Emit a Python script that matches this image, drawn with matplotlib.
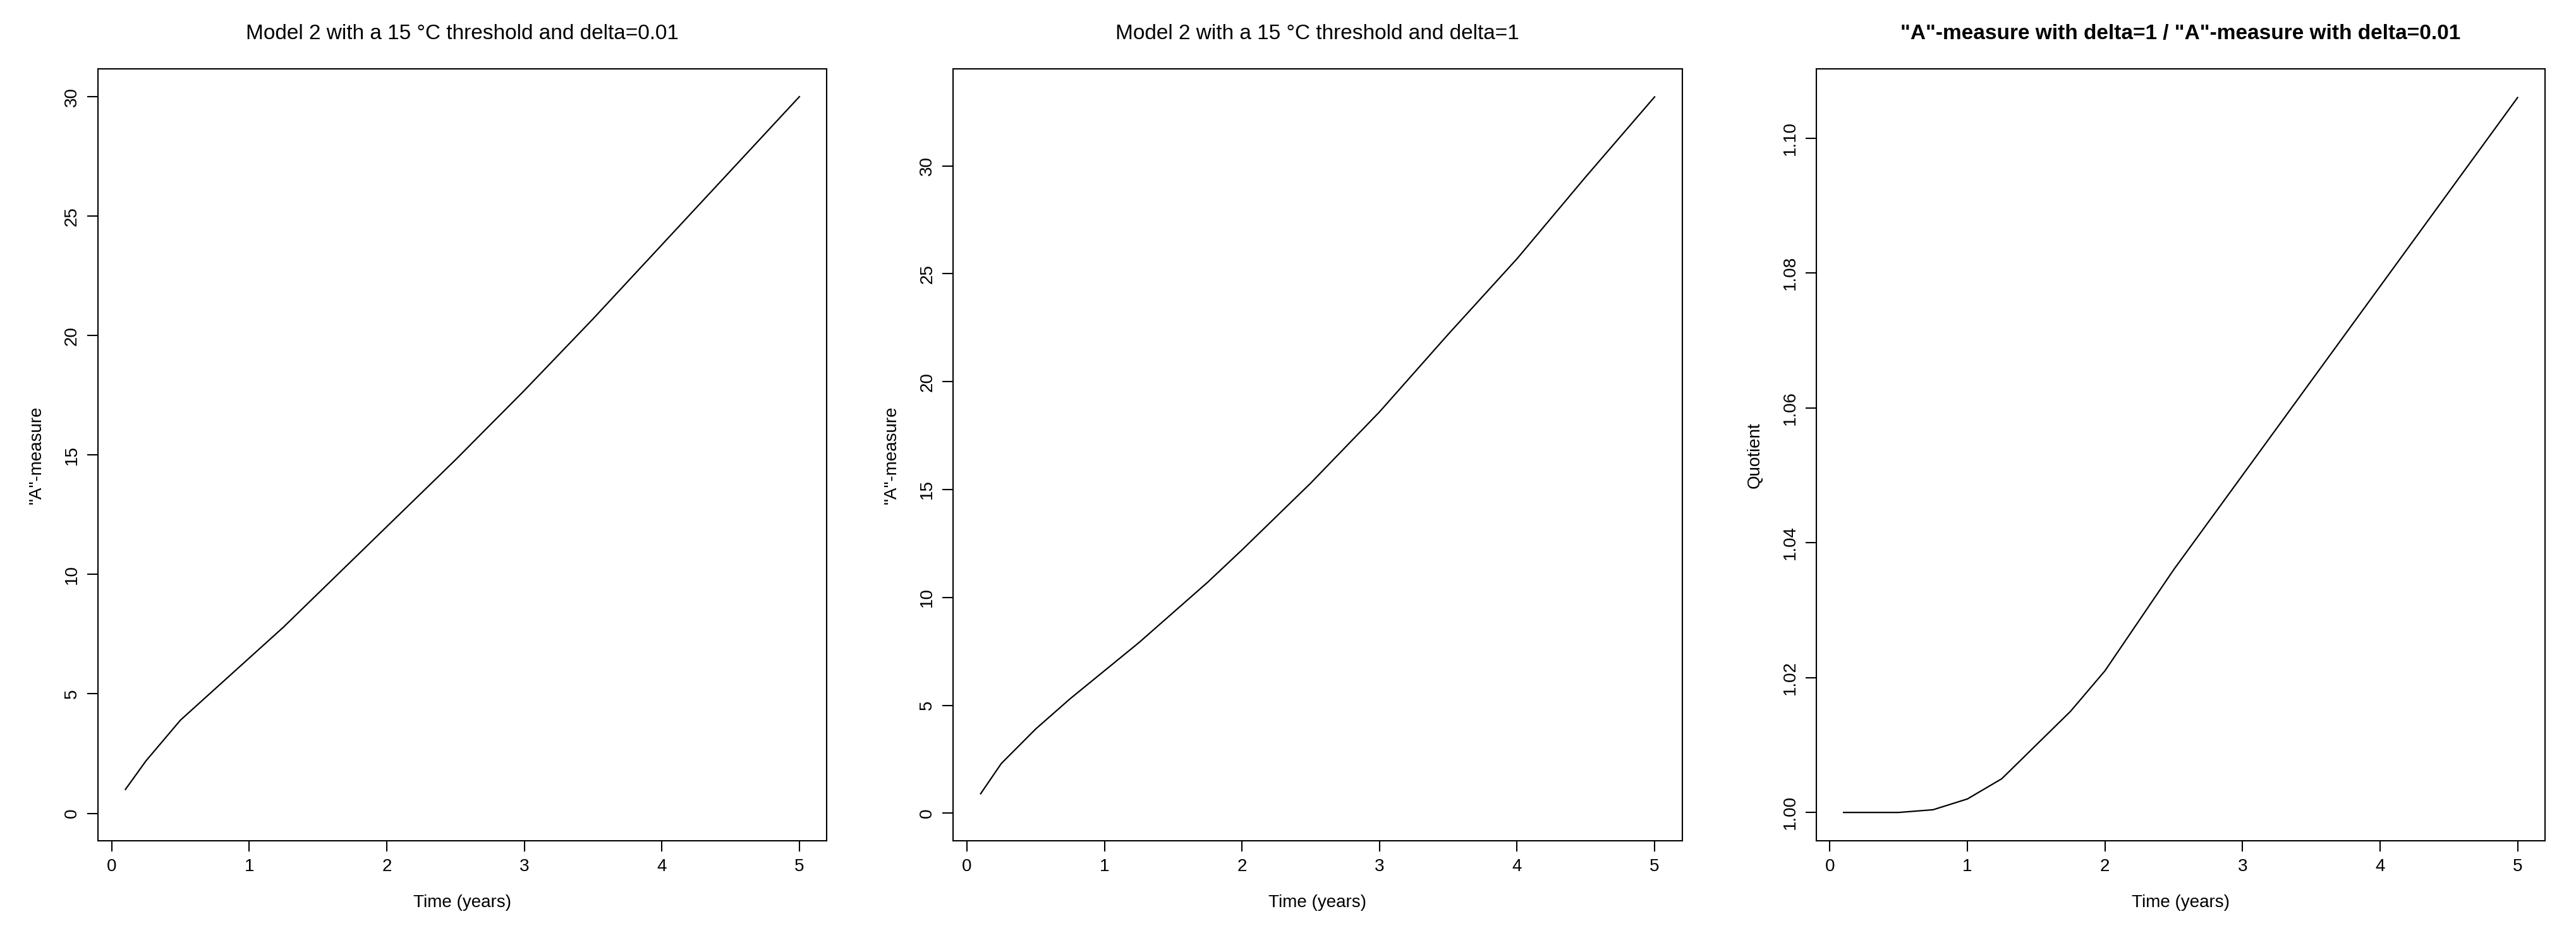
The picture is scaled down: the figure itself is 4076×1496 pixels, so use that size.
import numpy as np
import matplotlib.pyplot as plt

plt.rcParams['font.family'] = ['Liberation Sans', 'DejaVu Sans']

time = [0.1, 0.25, 0.5, 0.75, 1.0, 1.25, 1.5, 1.75, 2.0, 2.5, 3.0, 3.5, 4.0, 4.5, 5.0]
a_small = [1.0, 2.2, 3.9, 5.2, 6.5, 7.8, 9.2, 10.6, 12.0, 14.8, 17.7, 20.7, 23.8, 26.9, 30.0]
a_large = [0.9, 2.3, 3.9, 5.3, 6.6, 7.9, 9.3, 10.7, 12.2, 15.3, 18.6, 22.2, 25.7, 29.5, 33.2]
quotient = [1.0, 1.0, 1.0, 1.0004, 1.002, 1.005, 1.010, 1.015, 1.021, 1.036, 1.050, 1.064, 1.078, 1.092, 1.106]

titles = ["Model 2 with a 15 \u00b0C threshold and delta=0.01",
          "Model 2 with a 15 \u00b0C threshold and delta=1",
          '"A"-measure with delta=1 / "A"-measure with delta=0.01']
ylabels = ['"A"-measure', '"A"-measure', 'Quotient']
series = [a_small, a_large, quotient]
yticks = [np.arange(0, 31, 5), np.arange(0, 31, 5), np.arange(1.0, 1.101, 0.02)]
lefts = [0.038, 0.37, 0.705]
width = 0.283

fig = plt.figure(figsize=(40.76, 14.96), dpi=100)
for i in range(3):
    ax = fig.add_axes([lefts[i], 0.11, width, 0.817])
    ax.plot(time, series[i], color='black', lw=1.6)
    ax.set_xlim(-0.1, 5.2)
    ys = series[i]
    pad = (max(ys) - min(ys)) * 0.04
    lo = min(0, min(ys)) if i < 2 else min(ys)
    ax.set_ylim(lo - pad, max(ys) + pad)
    ax.set_xticks(range(6))
    ax.set_yticks(yticks[i])
    if i == 2:
        ax.set_yticklabels([f"{v:.2f}" for v in yticks[i]])
    ax.tick_params(direction='out', length=12, width=1.5, labelsize=20, pad=8)
    plt.setp(ax.get_yticklabels(), rotation=90, va='center')
    for s in ax.spines.values():
        s.set_linewidth(1.5)
    ax.set_xlabel("Time (years)", fontsize=20, labelpad=22)
    ax.set_ylabel(ylabels[i], fontsize=20, labelpad=22)
    ax.set_title(titles[i], fontsize=24, pad=34,
                 fontweight='bold' if i == 2 else 'normal')

fig.savefig("out.png", dpi=100, facecolor='white')
